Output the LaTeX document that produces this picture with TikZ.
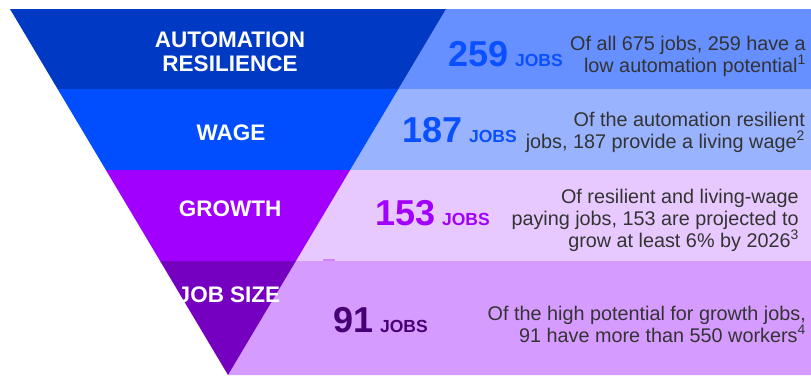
\documentclass[tikz,border=0pt]{standalone}
\usepackage{fontspec}
\setmainfont{Liberation Sans}
\usetikzlibrary{positioning}

\definecolor{autoDark}{HTML}{0039C4}
\definecolor{autoLight}{HTML}{6690FF}
\definecolor{wageDark}{HTML}{004EFF}
\definecolor{wageLight}{HTML}{99B3FF}
\definecolor{growDark}{HTML}{A100FF}
\definecolor{growLight}{HTML}{E8C9FF}
\definecolor{sizeDark}{HTML}{7500C0}
\definecolor{sizeLight}{HTML}{D69BFF}
\definecolor{numBlue}{HTML}{0A50FF}
\definecolor{numDeep}{HTML}{460073}
\definecolor{bodyText}{HTML}{333333}

\tikzset{
  stage/.style={text=white, font=\fontsize{22.5}{24}\selectfont\bfseries, align=center, anchor=base, inner sep=0pt},
  count/.style={font=\fontsize{36}{36}\selectfont\bfseries, anchor=base east, inner sep=0pt},
  note/.style={text=bodyText, font=\fontsize{19.8}{22}\selectfont, align=right, anchor=base east, inner sep=0pt},
}
\newcommand{\jobsword}{\hspace{7pt}{\fontsize{17.5}{17.5}\selectfont JOBS}}

\begin{document}
\begin{tikzpicture}[x=1pt,y=-1pt]
\useasboundingbox (0,0) rectangle (811,375);

% Right-hand bands
\fill[autoLight] (446,9) -- (811,9) -- (811,89) -- (398.4,89) -- cycle;
\fill[wageLight] (398.4,89) -- (811,89) -- (811,170) -- (350.1,170) -- cycle;
\fill[growLight] (350.1,170) -- (811,170) -- (811,261) -- (295.9,261) -- cycle;
\fill[sizeLight] (295.9,261) -- (811,261) -- (811,375) -- (228,375) -- cycle;
\fill[sizeLight!85!growDark] (323,259) rectangle (335,260.7);

% Funnel
\fill[autoDark] (10,9) -- (446,9) -- (398.4,89) -- (57.6,89) -- cycle;
\fill[wageDark] (57.6,89) -- (398.4,89) -- (350.1,170) -- (105.9,170) -- cycle;
\fill[growDark] (105.9,170) -- (350.1,170) -- (295.9,261) -- (160.1,261) -- cycle;
\fill[sizeDark] (160.1,261) -- (295.9,261) -- (228,375) -- cycle;

% Stage names (base = last line)
\node[stage] (autoName) at (230,71) {AUTOMATION\\RESILIENCE};
\node[stage] (wageName) at (231,140) {WAGE};
\node[stage] (growName) at (230,216) {GROWTH};
\node[stage] (sizeName) at (229,302) {JOB SIZE};

% Counts
\node[count,numBlue] (autoCount) at (563,66) {259\jobsword};
\node[count,numBlue] (wageCount) at (517,142) {187\jobsword};
\node[count,growDark] (growCount) at (490,225) {153\jobsword};
\node[count,numDeep] (sizeCount) at (428,332) {91\jobsword};

% Notes
\node[note] (autoNote) at (806,72) {Of all 675 jobs, 259 have a\\low automation potential\textsuperscript{1}};
\node[note] (wageNote) at (805,148) {Of the automation resilient\\jobs, 187 provide a living wage\textsuperscript{2}};
\node[note] (growNote) at (799,247) {Of resilient and living-wage\\paying jobs, 153 are projected to\\grow at least 6\% by 2026\textsuperscript{3}};
\node[note] (sizeNote) at (806,342) {Of the high potential for growth jobs,\\91 have more than 550 workers\textsuperscript{4}};
\end{tikzpicture}
\end{document}
